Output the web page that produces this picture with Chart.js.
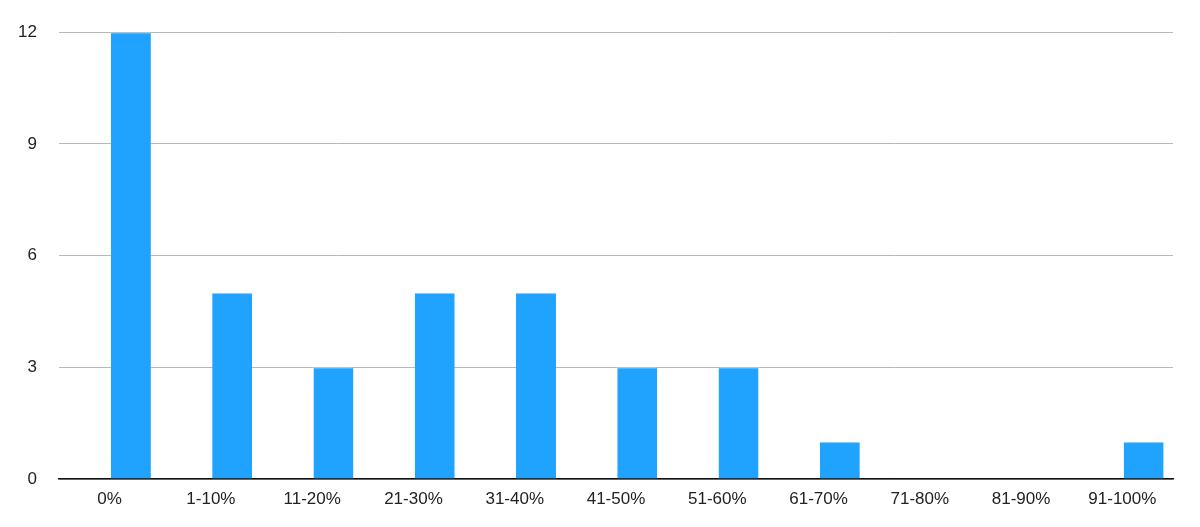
<!DOCTYPE html>
<html lang="en">
    <head>
        <meta charset="UTF-8">
        <title>Distribution</title>
        <script src="https://cdn.jsdelivr.net/npm/chart.js"></script>
        <style>
            html, body { margin: 0; padding: 0; background: #fff; }
            #wrap { width: 1200px; height: 527px; }
        </style>
    </head>
    <body>
        <div id="wrap"><canvas id="chart"></canvas></div>
        <script>
        // Données du graphique
        const categories = ["0%", "1-10%", "11-20%", "21-30%", "31-40%", "41-50%", "51-60%", "61-70%", "71-80%", "81-90%", "91-100%"];
        const counts = [12, 5, 3, 5, 5, 3, 3, 1, 0, 0, 1];
        const yTicks = [0, 3, 6, 9, 12];

        // série vide pour décaler les barres à droite du centre (comme l'original)
        const emptySeries = categories.map(() => null);

        const ctx = document.getElementById("chart").getContext("2d");
        new Chart(ctx, {
            type: "bar",
            data: {
                labels: categories,
                datasets: [
                    { data: emptySeries, backgroundColor: "transparent" },
                    {
                        data: counts,
                        backgroundColor: "#1fa3ff",
                        borderColor: "#c4c4c4",
                        borderWidth: { top: 1, left: 0, right: 0, bottom: 0 },
                        borderSkipped: "bottom"
                    }
                ]
            },
            options: {
                responsive: true,
                maintainAspectRatio: false,
                animation: false,
                categoryPercentage: 0.84,
                barPercentage: 0.94,
                layout: { padding: { top: 21, right: 27, left: 0, bottom: 0 } },
                plugins: { legend: { display: false }, tooltip: { enabled: false } },
                scales: {
                    x: {
                        grid: { display: false, drawTicks: false },
                        border: { display: true, color: "#111", width: 1.5 },
                        ticks: {
                            color: "#222",
                            font: { family: "Liberation Sans", size: 17 },
                            padding: 10,
                            maxRotation: 0,
                            autoSkip: false
                        },
                        afterFit: s => { s.height = 48; }
                    },
                    y: {
                        min: 0,
                        max: 12,
                        afterBuildTicks: s => { s.ticks = yTicks.map(v => ({ value: v })); },
                        grid: { color: "#b8b8b8", lineWidth: 1, drawTicks: false },
                        border: { display: false },
                        ticks: {
                            color: "#222",
                            font: { family: "Liberation Sans", size: 17 },
                            padding: 22
                        },
                        afterFit: s => { s.width = 59; }
                    }
                }
            }
        });
        </script>
    </body>
</html>
